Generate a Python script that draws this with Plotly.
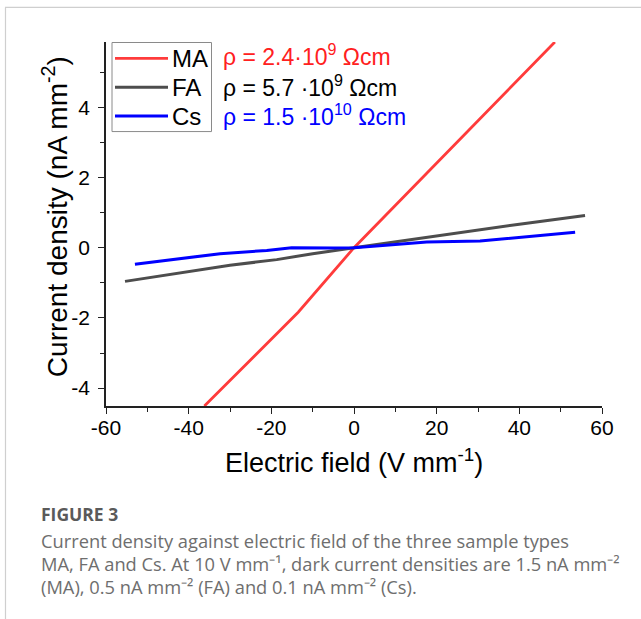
import plotly.graph_objects as go

# ---- data ----
ma_x = [-36.2, -13.5, 0.0, 48.6]
ma_y = [-4.51, -1.84, 0.0, 5.86]

fa_x = [-55.4, -40, -30, -18.7, -10, 0, 10, 20, 30, 40, 55.9]
fa_y = [-0.96, -0.68, -0.50, -0.34, -0.17, 0.0, 0.17, 0.34, 0.51, 0.67, 0.92]

cs_x = [-53.0, -42, -32.4, -21.1, -15.1, -5, 0, 10, 17.6, 30.5, 40, 53.5]
cs_y = [-0.47, -0.30, -0.17, -0.08, 0.0, -0.01, 0.0, 0.09, 0.16, 0.19, 0.30, 0.44]

series_names = ["MA", "FA", "Cs"]
series_colors = ["#ff3b3b", "#4d4d4d", "#0000ff"]
rho_labels = ["ρ = 2.4·10<sup>9</sup> Ωcm",
              "ρ = 5.7 ·10<sup>9</sup> Ωcm",
              "ρ = 1.5 ·10<sup>10</sup> Ωcm"]
rho_colors = ["#ff2020", "#000000", "#0000ff"]

x_ticks = [-60, -40, -20, 0, 20, 40, 60]
x_ticktext = ["-60", "-40", "-20", "0", "20", "40", "60"]
y_ticks = [-4, -2, 0, 2, 4]
y_ticktext = ["-4", "-2", "0", "2", "4"]

caption_title = "FIGURE 3"
caption_lines = [
    "Current density against electric field of the three sample types",
    "MA, FA and Cs. At 10 V mm⁻¹, dark current densities are 1.5 nA mm⁻²",
    "(MA), 0.5 nA mm⁻² (FA) and 0.1 nA mm⁻² (Cs).",
]

W, H = 641, 619
L, R, T, B = 106, 39, 42, 213.3
PW, PH = W - L - R, H - T - B


def px(x):
    return (x - L) / PW


def py(y):
    return (H - B - y) / PH


fig = go.Figure()
widths = [2.8, 3, 3]
for xs, ys, name, col, lw in zip([ma_x, fa_x, cs_x], [ma_y, fa_y, cs_y],
                                 series_names, series_colors, widths):
    fig.add_trace(go.Scatter(x=xs, y=ys, mode="lines", name=name,
                             line=dict(color=col, width=lw), showlegend=False))

FONT = "Liberation Sans"
tickfont = dict(family=FONT, size=21, color="#000")

xaxis = dict(range=[-60, 60], tickmode="array", tickvals=x_ticks, ticktext=x_ticktext,
             showgrid=False, zeroline=False, showline=True, linecolor="#222", linewidth=1.5,
             ticks="outside", ticklen=6, tickwidth=1.3, tickcolor="#222",
             tickfont=tickfont, ticklabelstandoff=-4, automargin=False,
             minor=dict(dtick=10, ticks="outside", ticklen=4, tickcolor="#222", tickwidth=1.2))
yaxis = dict(range=[-4.51, 5.86], tickmode="array", tickvals=y_ticks, ticktext=y_ticktext,
             showgrid=False, zeroline=False, showline=True, linecolor="#222", linewidth=1.5,
             ticks="outside", ticklen=6, tickwidth=1.3, tickcolor="#222",
             tickfont=tickfont, ticklabelstandoff=4, automargin=False,
             minor=dict(dtick=1, ticks="outside", ticklen=4, tickcolor="#222", tickwidth=1.2))

annotations = []
shapes = []
# axis titles
annotations.append(dict(text="Electric field (V mm<sup>-1</sup>)", x=px(354), y=py(461),
                        xref="paper", yref="paper", showarrow=False,
                        xanchor="center", yanchor="middle",
                        font=dict(family=FONT, size=27, color="#000")))
annotations.append(dict(text="Current density (nA mm<sup>-2</sup>)", x=px(55), y=py(217),
                        xref="paper", yref="paper", showarrow=False, textangle=-90,
                        xanchor="center", yanchor="middle",
                        font=dict(family=FONT, size=28, color="#000")))

# legend box (Origin style)
leg_rows = [58.3, 87.3, 116]
shapes.append(dict(type="rect", xref="paper", yref="paper",
                   x0=px(112), x1=px(211.5), y0=py(131.5), y1=py(42.5),
                   line=dict(color="#8a8a8a", width=1), fillcolor="white", layer="above"))
for name, col, w, yy in zip(series_names, series_colors, widths, leg_rows):
    shapes.append(dict(type="line", xref="paper", yref="paper",
                       x0=px(115), x1=px(168), y0=py(yy), y1=py(yy),
                       line=dict(color=col, width=w), layer="above"))
    annotations.append(dict(text=name, x=px(170), y=py(yy), xref="paper", yref="paper",
                            showarrow=False, xanchor="left", yanchor="middle",
                            font=dict(family=FONT, size=24, color="#000")))

# resistivity labels
for lab, col, yy in zip(rho_labels, rho_colors, [55, 85.5, 115]):
    annotations.append(dict(text=lab, x=px(221), y=py(yy), xref="paper", yref="paper",
                            showarrow=False, xanchor="left", yanchor="middle",
                            font=dict(family=FONT, size=23, color=col)))
# caption
cap_font = "Open Sans"
annotations.append(dict(text="<b>" + caption_title + "</b>", x=px(39), y=py(514),
                        xref="paper", yref="paper", showarrow=False,
                        xanchor="left", yanchor="middle",
                        font=dict(family=cap_font, size=17.5, color="#5a5a5a")))
for line, yy in zip(caption_lines, [540, 563, 586]):
    annotations.append(dict(text=line, x=px(39), y=py(yy), xref="paper", yref="paper",
                            showarrow=False, xanchor="left", yanchor="middle",
                            font=dict(family=cap_font, size=18.3, color="#6e6e6e")))

shapes += [
    dict(type="line", xref="paper", yref="paper", x0=px(5), x1=px(641), y0=py(7.5), y1=py(7.5),
         line=dict(color="#cfcfcf", width=1.2)),
    dict(type="line", xref="paper", yref="paper", x0=px(5.5), x1=px(5.5), y0=py(7.5), y1=py(619),
         line=dict(color="#cfcfcf", width=1.2)),
]

fig.update_layout(
    width=W, height=H,
    margin=dict(l=L, r=R, t=T, b=B),
    paper_bgcolor="white", plot_bgcolor="white",
    font=dict(family=FONT, size=20, color="#000"),
    xaxis=xaxis, yaxis=yaxis,
    showlegend=False,
    annotations=annotations,
    shapes=shapes,
)

fig.write_html("out.html")
